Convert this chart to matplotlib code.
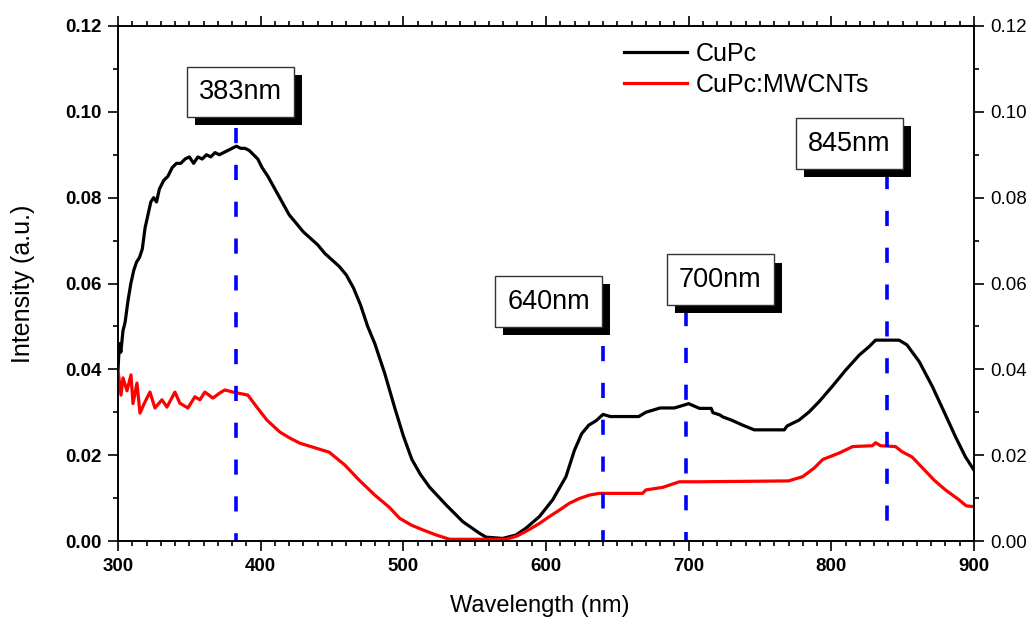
import matplotlib

matplotlib.use("Agg")
import matplotlib.pyplot as plt
import matplotlib.patheffects as pe
from matplotlib.ticker import MultipleLocator

plt.rcParams["font.family"] = ["Liberation Sans", "DejaVu Sans"]

# CuPc (black) spectrum
cupc_nm = [
    300, 301, 302, 303.5, 305, 307, 309, 311, 313, 315, 317, 319, 321, 323, 325,
    327, 329, 332, 335, 338, 341, 344, 347, 350, 353, 356, 359, 362, 365, 368,
    371, 374, 377, 380, 383, 386, 389, 392, 395, 398, 401, 405, 410, 415, 420,
    425, 430, 435, 440, 445, 450, 455, 460, 465, 470, 475, 480, 487, 494, 500,
    506, 512, 518.5, 530, 541.7, 553.4, 558, 569.6, 579, 586, 595.4, 604.7, 614,
    620, 625, 630, 635, 640, 645, 655, 665, 670, 680, 690, 695, 700, 707.6,
    715.8, 717, 721.7, 724, 729.8, 737.8, 746, 767, 769, 777.5, 784.5, 791.5,
    800.6, 810, 819.5, 826.5, 831, 847.5, 853, 861.6, 870.8, 880, 887, 894, 900,
]
cupc_int = [
    0.040, 0.046, 0.044, 0.049, 0.051, 0.056, 0.060, 0.063, 0.065, 0.066, 0.068,
    0.073, 0.076, 0.079, 0.080, 0.079, 0.082, 0.084, 0.085, 0.087, 0.088, 0.088,
    0.089, 0.0895, 0.088, 0.0895, 0.089, 0.090, 0.0895, 0.0905, 0.090, 0.0905,
    0.091, 0.0915, 0.092, 0.0915, 0.0915, 0.091, 0.090, 0.089, 0.087, 0.085,
    0.082, 0.079, 0.076, 0.074, 0.072, 0.0705, 0.069, 0.067, 0.0655, 0.064,
    0.062, 0.059, 0.055, 0.050, 0.046, 0.039, 0.031, 0.0245, 0.019, 0.0155,
    0.0125, 0.0084, 0.0045, 0.0018, 0.0009, 0.0006, 0.0014, 0.003, 0.0057,
    0.0096, 0.015, 0.0212, 0.025, 0.027, 0.028, 0.0295, 0.029, 0.029, 0.029,
    0.030, 0.031, 0.031, 0.0315, 0.032, 0.0309, 0.0309, 0.0299, 0.0294, 0.0289,
    0.0282, 0.027, 0.0259, 0.0259, 0.0268, 0.0282, 0.0301, 0.0325, 0.036,
    0.0398, 0.0433, 0.0453, 0.0468, 0.0468, 0.0457, 0.0418, 0.036, 0.0294,
    0.0243, 0.0196, 0.0165,
]

# CuPc:MWCNTs (red) spectrum
mix_nm = [
    300, 302.1, 303.5, 306.3, 309.1, 310.5, 313.3, 315.4, 318.9, 322.4, 325.9,
    330.8, 334.3, 339.9, 343.4, 349, 353.9, 357.4, 360.9, 366.5, 371.4, 374.9,
    380.5, 391, 397.3, 404.3, 413.4, 420.4, 427.4, 448, 459, 469, 480, 490,
    497.4, 505.6, 513.6, 523, 532.4, 572, 580, 588.4, 595.4, 602.4, 609.4,
    616.4, 623.4, 630.4, 637.4, 667.7, 670, 681.8, 693.5, 707.4, 770, 780, 788,
    794, 805.5, 815, 828.8, 831, 834.5, 845, 849.6, 856.5, 864, 872, 880,
    889.5, 894.5, 900,
]
mix_int = [
    0.0398, 0.034, 0.038, 0.035, 0.0387, 0.032, 0.0368, 0.0298, 0.0324, 0.0347,
    0.031, 0.0329, 0.0312, 0.0347, 0.0321, 0.031, 0.0336, 0.0329, 0.0347,
    0.0333, 0.0345, 0.0352, 0.0347, 0.034, 0.0312, 0.0282, 0.0254, 0.024,
    0.0228, 0.0207, 0.0177, 0.0142, 0.0107, 0.0079, 0.0053, 0.0037, 0.0026,
    0.0014, 0.0004, 0.0004, 0.0012, 0.0027, 0.0041, 0.0057, 0.0072, 0.0088,
    0.0099, 0.0107, 0.0111, 0.0111, 0.0119, 0.0125, 0.0138, 0.0138, 0.014,
    0.015, 0.017, 0.019, 0.0205, 0.022, 0.0222, 0.0229, 0.0222, 0.022, 0.0208,
    0.0196, 0.017, 0.0142, 0.0119, 0.0096, 0.0082, 0.008,
]

# peak markers: dashed line position / top, label box centre
peak_nm = [383, 640, 698, 839]
peak_top = [0.0962, 0.0455, 0.0535, 0.0855]
peak_labels = ["383nm", "640nm", "700nm", "845nm"]
label_x = [386, 601.8, 722, 812.8]
label_y = [0.1046, 0.0558, 0.0609, 0.0926]

fig = plt.figure(figsize=(10.35, 6.18), dpi=100)
ax = fig.add_axes([118 / 1035, 1 - 541 / 618, (974 - 118) / 1035, (541 - 26) / 618])

ax.plot(cupc_nm, cupc_int, color="black", lw=2.3, label="CuPc", zorder=3)
ax.plot(mix_nm, mix_int, color="#ff0000", lw=2.3, label="CuPc:MWCNTs", zorder=3)

for x, top in zip(peak_nm, peak_top):
    ax.plot([x, x], [top, 0], color="#0000ff", lw=2.6, dashes=(4.2, 6.0), zorder=4)

# white label boxes with a solid black drop shadow
for x, y, txt in zip(label_x, label_y, peak_labels):
    t = ax.text(x, y, txt, fontsize=19.5, color="black", ha="center", va="center",
                zorder=6,
                bbox=dict(boxstyle="square,pad=0.45", fc="white", ec="#333333", lw=1))
    t.get_bbox_patch().set_path_effects([
        pe.SimplePatchShadow(offset=(5.8, -5.8), shadow_rgbFace="black", alpha=1.0),
        pe.Normal(),
    ])

ax.set_xlim(300, 900)
ax.set_ylim(0, 0.12)
ax.xaxis.set_major_locator(MultipleLocator(100))
ax.xaxis.set_minor_locator(MultipleLocator(10))
ax.yaxis.set_major_locator(MultipleLocator(0.02))
ax.yaxis.set_minor_locator(MultipleLocator(0.01))
ax.yaxis.set_major_formatter(lambda v, p: f"{v:.2f}")

ax.tick_params(which="both", direction="out", top=True, right=False, width=1.2)
ax.tick_params(which="major", length=7, labelsize=13.5, pad=5)
ax.tick_params(which="minor", length=3.5)
for lab in ax.get_xticklabels() + ax.get_yticklabels():
    lab.set_fontweight("bold")

ax2 = ax.twinx()
ax2.set_ylim(0, 0.12)
ax2.yaxis.set_major_locator(MultipleLocator(0.02))
ax2.yaxis.set_minor_locator(MultipleLocator(0.01))
ax2.yaxis.set_major_formatter(lambda v, p: f"{v:.2f}")
ax2.tick_params(which="both", direction="out", width=1.2)
ax2.tick_params(which="major", length=7, labelsize=13.5, pad=5)
ax2.tick_params(which="minor", length=3.5)

for a in (ax, ax2):
    for sp in a.spines.values():
        sp.set_linewidth(1.2)

ax.set_xlabel("Wavelength (nm)", fontsize=17)
ax.xaxis.set_label_coords(0.493, -0.104)
ax.set_ylabel("Intensity (a.u.)", fontsize=18)
ax.yaxis.set_label_coords(-0.097, 0.5)

ax.legend(loc="upper left", bbox_to_anchor=(0.5916, 0.969), frameon=False,
          fontsize=18, handlelength=2.5, handletextpad=0.36, labelspacing=0.29,
          borderpad=0, borderaxespad=0)

fig.savefig("out.png", dpi=100)
